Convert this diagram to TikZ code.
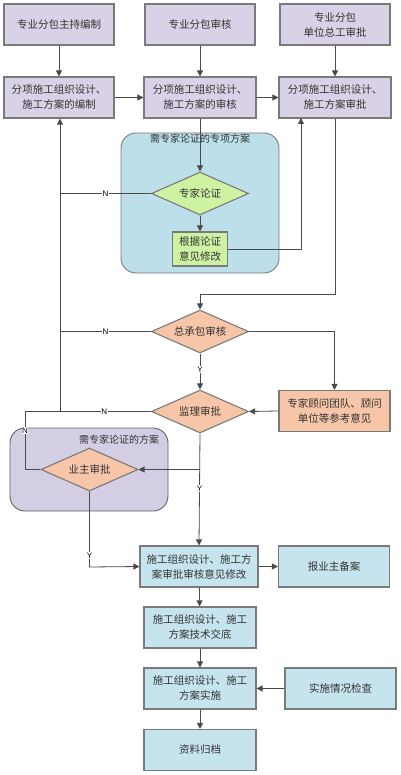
\documentclass[tikz,border=0pt]{standalone}
\usepackage{fontspec}
\newfontfamily\cjk{Noto Sans CJK SC}
\setsansfont{Liberation Sans}
\usetikzlibrary{shapes.geometric,arrows.meta,calc}
\definecolor{lav}{HTML}{D9D2E6}
\definecolor{lblue}{HTML}{C6E4EE}
\definecolor{cblue}{HTML}{BCDFEA}
\definecolor{lgreen}{HTML}{CDF2A2}
\definecolor{salmon}{HTML}{F7C6A8}
\definecolor{cpurp}{HTML}{D3CEE3}
\definecolor{bord}{HTML}{7A7A7A}
\definecolor{txt}{HTML}{333333}
\definecolor{ln}{HTML}{4A4A4A}
\tikzset{
  base/.style={draw=bord, line width=1.1pt, text=txt, font=\cjk\fontsize{10.5}{15}\selectfont, align=center, inner sep=0pt},
  box/.style={base, rectangle, minimum width=110pt, minimum height=41pt},
  purplebox/.style={box, fill=lav},
  bluebox/.style={box, fill=lblue},
  salbox/.style={box, fill=salmon},
  dia/.style={base, diamond, minimum width=97pt, minimum height=43pt, label={[text=txt, font=\cjk\fontsize{10.5}{15}\selectfont]center:#1}},
  conn/.style={draw=ln, line width=0.8pt},
  arr/.style={conn, -{Triangle[length=6pt,width=6pt]}},
  yn/.style={font=\sffamily\fontsize{8}{8}\selectfont, fill=white, inner sep=0.6pt, text=black}
}
\begin{document}
\begin{tikzpicture}[x=1pt,y=-1pt]
\useasboundingbox[fill=white] (0,0) rectangle (400,775);
% containers
\draw[draw=bord, line width=0.9pt, fill=cblue, rounded corners=15pt] (121,133) rectangle (279,273);
\node[font=\cjk\fontsize{10}{12}\selectfont, text=txt] (ct1) at (200,139) {需专家论证的专项方案};
\draw[draw=bord!80!black, line width=0.9pt, fill=cpurp, rounded corners=15pt] (10,428) rectangle (168,511);
\node[font=\cjk\fontsize{10}{12}\selectfont, text=txt] (ct2) at (119,440) {需专家论证的方案};
% top row
\node[purplebox] (t1) at (59,24.5) {专业分包主持编制};
\node[purplebox] (t2) at (200,24.5) {专业分包审核};
\node[purplebox] (t3) at (335,24.5) {专业分包\\单位总工审批};
% second row
\node[purplebox] (b1) at (59,97.5) {分项施工组织设计、\\施工方案的编制};
\node[purplebox, minimum width=112pt] (b2) at (200,97.5) {分项施工组织设计、\\施工方案的审核};
\node[purplebox, minimum width=112pt] (b3) at (335,97.5) {分项施工组织设计、\\施工方案审批};
% expert
\node[dia={专家论证}, fill=lgreen] (d1) at (200,193.5) {};
\node[base, rectangle, fill=lgreen, minimum width=55pt, minimum height=34pt] (g) at (200,249) {根据论证\\意见修改};
% review diamonds
\node[dia={总承包审核}, fill=salmon] (d2) at (200,331.5) {};
\node[dia={监理审批}, fill=salmon] (d3) at (200,411.5) {};
\node[salbox, minimum width=111pt] (ex) at (334.5,411) {专家顾问团队、顾问\\单位等参考意见};
\node[dia={业主审批}, fill=salmon] (d4) at (89.5,469.5) {};
% bottom
\node[bluebox, minimum width=118pt] (c1) at (199,566.5) {施工组织设计、施工方\\案审批审核意见修改};
\node[bluebox, minimum width=111pt] (c2) at (334,566.5) {报业主备案};
\node[bluebox, minimum width=112pt] (c3) at (200,627.5) {施工组织设计、施工\\方案技术交底};
\node[bluebox, minimum width=112pt] (c4) at (200,688.5) {施工组织设计、施工\\方案实施};
\node[bluebox, minimum width=111pt] (c6) at (340.5,688.5) {实施情况检查};
\node[bluebox, minimum width=112pt] (c5) at (200,750) {资料归档};
% coordinates
\coordinate (lx) at (60,411.5);
\coordinate (b3r) at (301,118);
\coordinate (rt) at (335,294);
\coordinate (mt) at (200,294);
\coordinate (nl) at (25,411.5);
\coordinate (nlb) at (25,469.5);
\coordinate (yj) at (200,469.5);
\coordinate (yb) at (89.5,567);
% connectors
\draw[arr] (t1) -- (b1);
\draw[arr] (t2) -- (b2);
\draw[arr] (t3) -- (b3);
\draw[arr] (b1) -- (b2);
\draw[arr] (b2) -- (b3);
\draw[arr] (b2) -- (d1);
\draw[arr] (d1) -- (g);
\draw[arr] (g.east) -| (b3r);
\draw[conn] (d1.west) -- node[yn, pos=0.5]{N} (60,193.5);
\draw[arr] (lx) -- (b1.south -| lx);
\draw[arr] (b3.south) -- (rt) -- (mt) -- (d2.north);
\draw[conn] (d2.west) -- node[yn, pos=0.5]{N} (60,331.5);
\draw[arr] (d2.east) -| (ex.north);
\draw[arr] (d2.south) -- node[yn, pos=0.45]{Y} (d3.north);
\draw[arr] (ex.west) -- (d3.east);
\draw[conn] (d3.west) -- node[yn, pos=0.37]{N} (nl) -- node[yn, pos=0.33]{N} (nlb) -- (d4.west);
\draw[arr] (d3.south) -- node[yn, pos=0.49]{Y} (c1.north);
\draw[arr] (yj) -- (d4.east);
\draw[arr] (d4.south) -- node[yn, pos=0.85]{Y} (yb) -- (c1.west);
\draw[arr] (c1) -- (c2);
\draw[arr] (c1) -- (c3);
\draw[arr] (c3) -- (c4);
\draw[arr] (c4) -- (c5);
\draw[arr] (c6) -- (c4);
\end{tikzpicture}
\end{document}
